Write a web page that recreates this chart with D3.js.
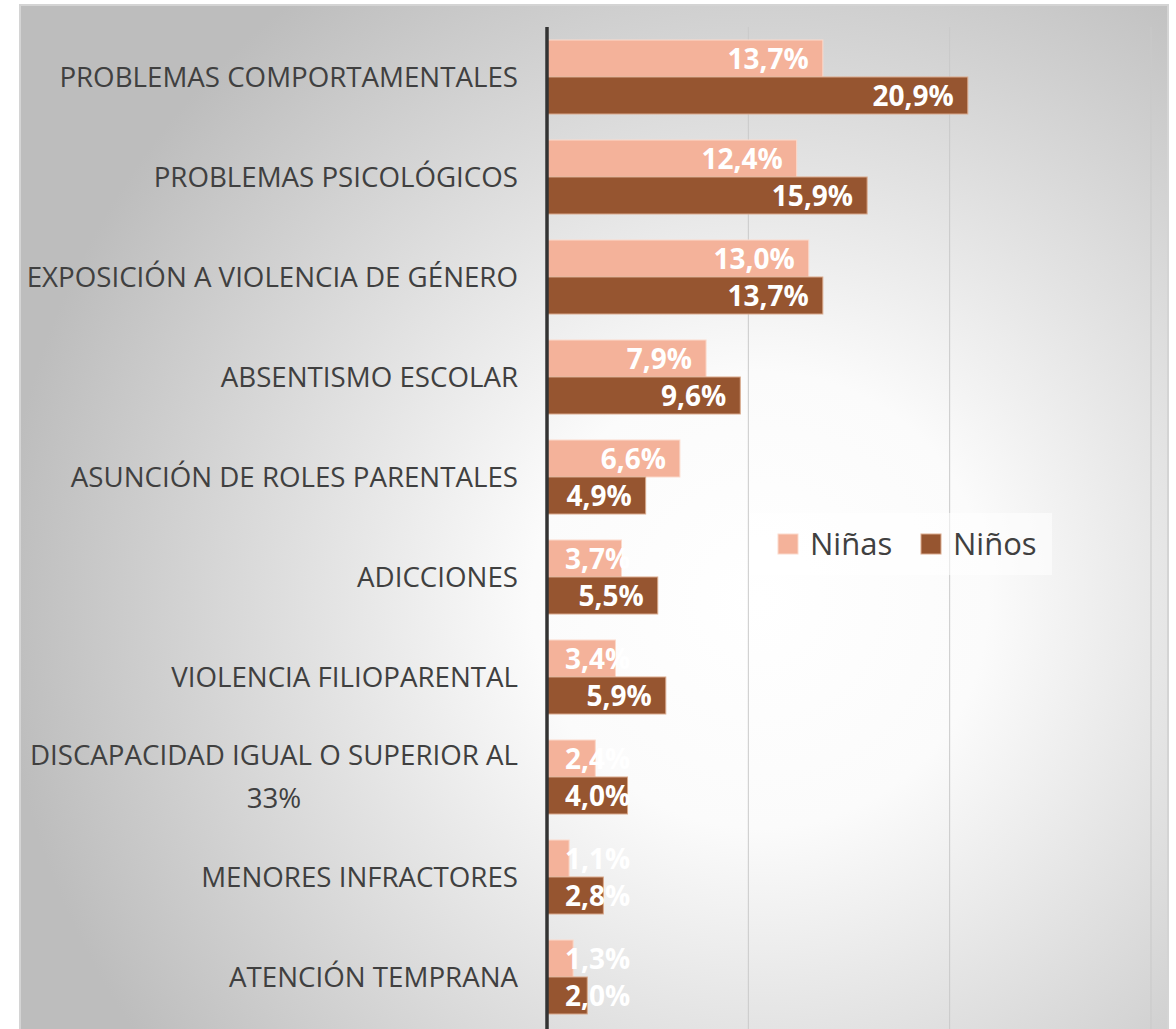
<!DOCTYPE html>
<html>
<head>
<meta charset="utf-8">
<script src="https://cdn.jsdelivr.net/npm/d3@7"></script>
<style>
  body { margin: 0; background: #fff; }
  svg { display: block; font-family: "Open Sans", sans-serif; }
</style>
</head>
<body>
<svg id="chart" width="1176" height="1029"></svg>
<script>
var categories = [
  "PROBLEMAS COMPORTAMENTALES",
  "PROBLEMAS PSICOLÓGICOS",
  "EXPOSICIÓN A VIOLENCIA DE GÉNERO",
  "ABSENTISMO ESCOLAR",
  "ASUNCIÓN DE ROLES PARENTALES",
  "ADICCIONES",
  "VIOLENCIA FILIOPARENTAL",
  "DISCAPACIDAD IGUAL O SUPERIOR AL|33%",
  "MENORES INFRACTORES",
  "ATENCIÓN TEMPRANA"
];
var ninas = [13.7, 12.4, 13.0, 7.9, 6.6, 3.7, 3.4, 2.4, 1.1, 1.3];
var ninos = [20.9, 15.9, 13.7, 9.6, 4.9, 5.5, 5.9, 4.0, 2.8, 2.0];
var gridTicks = [10, 20, 30];
var seriesNames = ["Niñas", "Niños"];
var colors = ["#F4B29A", "#965530"];

var svg = d3.select("#chart");

// background panel with radial gradient
var defs = svg.append("defs");
var grad = defs.append("radialGradient")
  .attr("id", "bg")
  .attr("gradientUnits", "userSpaceOnUse")
  .attr("cx", 760).attr("cy", 600).attr("r", 760);
grad.append("stop").attr("offset", "0%").attr("stop-color", "#ffffff");
grad.append("stop").attr("offset", "30%").attr("stop-color", "#fbfbfb");
grad.append("stop").attr("offset", "100%").attr("stop-color", "#bdbdbd");

svg.append("rect")
  .attr("x", 20).attr("y", 5)
  .attr("width", 1148).attr("height", 1040)
  .attr("fill", "url(#bg)")
  .attr("stroke", "#d4d4d4")
  .attr("stroke-width", 2);

var x = d3.scaleLinear().domain([0, 30]).range([547, 1151]);
var y = d3.scaleBand()
  .domain(categories)
  .range([27, 1027])
  .paddingInner(0.26)
  .paddingOuter(0.13);
var sub = d3.scaleBand()
  .domain([0, 1])
  .range([0, y.bandwidth()]);

// gridlines
svg.append("g")
  .selectAll("line")
  .data(gridTicks)
  .enter().append("line")
  .attr("x1", function(d) { return x(d); })
  .attr("x2", function(d) { return x(d); })
  .attr("y1", 27)
  .attr("y2", 1029)
  .attr("stroke", "#c9c9c9")
  .attr("stroke-width", 1);

// bars
var rows = categories.map(function(c, i) {
  return { cat: c, vals: [ninas[i], ninos[i]] };
});
var groups = svg.append("g")
  .selectAll("g")
  .data(rows)
  .enter().append("g")
  .attr("transform", function(d) { return "translate(0," + y(d.cat) + ")"; });

groups.selectAll("rect")
  .data(function(d) { return d.vals.map(function(v, k) { return { v: v, k: k }; }); })
  .enter().append("rect")
  .attr("x", x(0))
  .attr("y", function(d) { return sub(d.k); })
  .attr("width", function(d) { return x(d.v) - x(0); })
  .attr("height", sub.bandwidth())
  .attr("fill", function(d) { return colors[d.k]; })
  .attr("stroke", function(d) { return d.k == 0 ? "#fbd9cb" : "#d9a98c"; })
  .attr("stroke-width", 1);

// value labels
groups.selectAll("text")
  .data(function(d) { return d.vals.map(function(v, k) { return { v: v, k: k }; }); })
  .enter().append("text")
  .attr("y", function(d) { return sub(d.k) + sub.bandwidth() / 2; })
  .attr("dy", "0.36em")
  .attr("text-anchor", "end")
  .attr("fill", "#ffffff")
  .style("font-weight", "bold")
  .style("font-size", "28px")
  .text(function(d) { return d.v.toFixed(1).replace(".", ",") + "%"; })
  .attr("x", function(d) {
    var w = this.getComputedTextLength();
    return Math.max(x(d.v) - 14, x(0) + 18 + w);
  });

// axis line
svg.append("line")
  .attr("x1", x(0)).attr("x2", x(0))
  .attr("y1", 27).attr("y2", 1029)
  .attr("stroke", "#333333")
  .attr("stroke-width", 3.5);

// category labels
var labelRight = 518;
var lineH = 43;
categories.forEach(function(c) {
  var lines = c.split("|");
  var t = svg.append("text")
    .attr("fill", "#404040")
    .style("font-size", "27.7px");
  var cy = y(c) + y.bandwidth() / 2 - (lines.length - 1) * lineH / 2;
  lines.forEach(function(l, i) {
    t.append("tspan")
      .attr("y", cy + i * lineH)
      .attr("dy", "0.36em")
      .text(l);
  });
  var maxW = 0;
  t.selectAll("tspan").each(function() {
    maxW = Math.max(maxW, this.getComputedTextLength());
  });
  var cx = labelRight - maxW / 2;
  t.attr("text-anchor", "middle");
  t.selectAll("tspan").attr("x", cx);
});

// legend
var legend = svg.append("g");
legend.append("rect")
  .attr("x", 750).attr("y", 513)
  .attr("width", 302).attr("height", 62)
  .attr("fill", "#ffffff")
  .attr("fill-opacity", 0.55);
var lx = [778, 921];
seriesNames.forEach(function(n, i) {
  legend.append("rect")
    .attr("x", lx[i]).attr("y", 534)
    .attr("width", 20).attr("height", 20)
    .attr("fill", colors[i])
    .attr("stroke", i == 0 ? "#fbd9cb" : "#d9a98c");
  legend.append("text")
    .attr("x", lx[i] + 32).attr("y", 544)
    .attr("dy", "0.36em")
    .attr("fill", "#404040")
    .style("font-size", "31px")
    .text(n);
});
</script>
</body>
</html>
